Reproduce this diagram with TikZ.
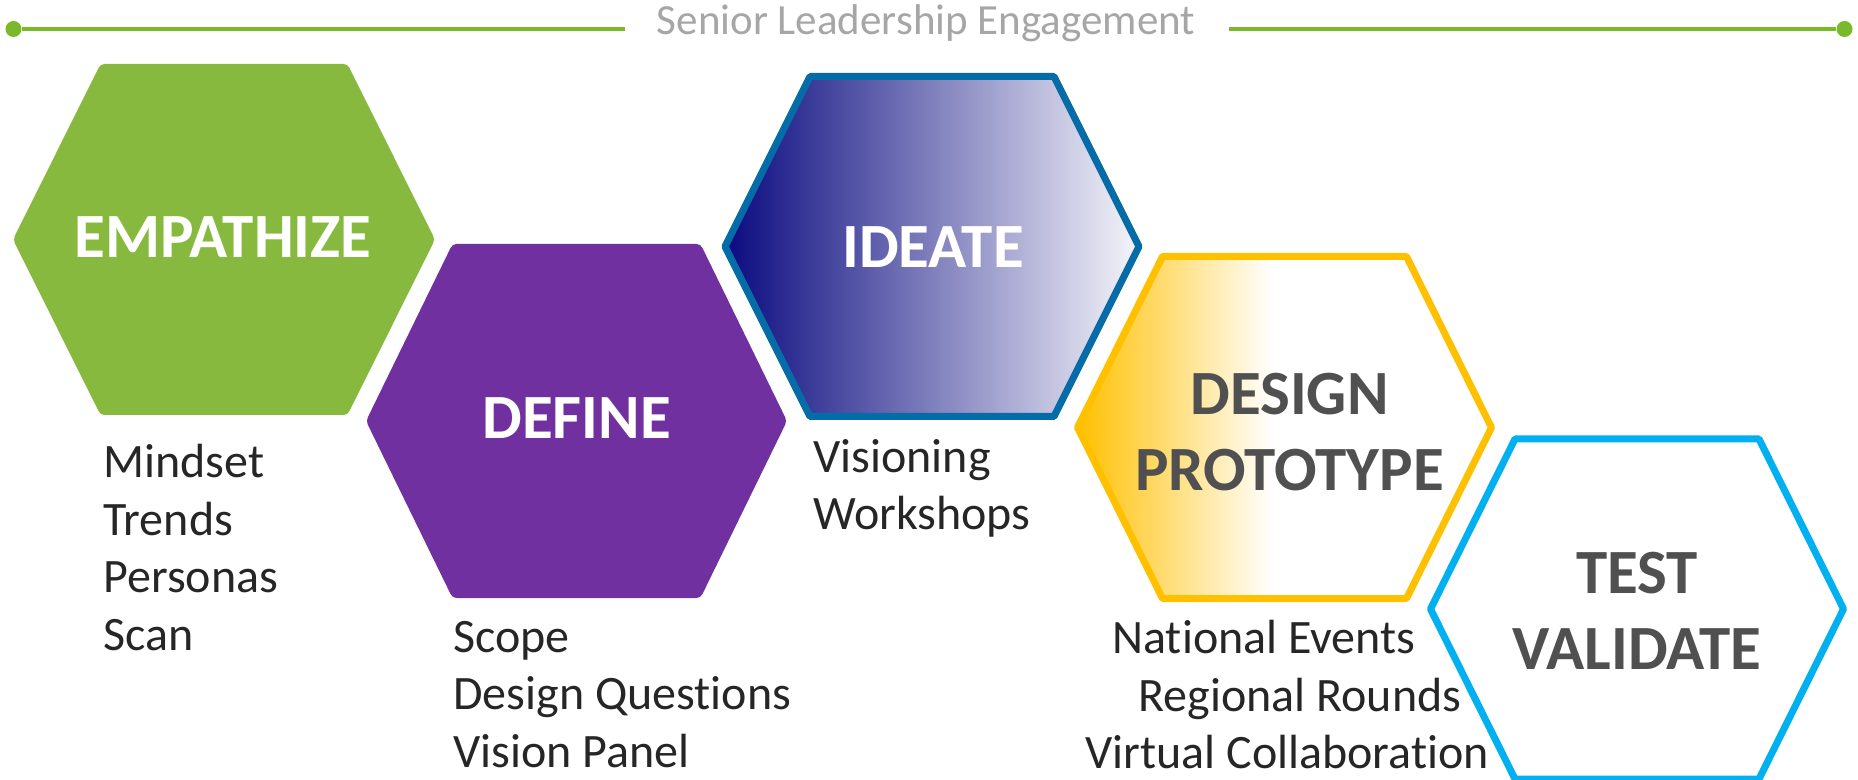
\documentclass[tikz,border=0pt]{standalone}
\usepackage{fontspec}
\setmainfont{Carlito}[Ligatures=NoCommon]

\definecolor{linegreen}{RGB}{122,185,41}
\definecolor{titlegray}{RGB}{166,166,166}
\definecolor{empfill}{RGB}{134,185,62}
\definecolor{deffill}{RGB}{112,48,160}
\definecolor{ideaborder}{RGB}{5,108,168}
\definecolor{idealeft}{RGB}{10,10,128}
\definecolor{idearight}{RGB}{245,245,250}
\definecolor{gold}{RGB}{255,192,0}
\definecolor{testblue}{RGB}{0,176,240}
\definecolor{darktext}{RGB}{80,80,80}
\definecolor{listgray}{RGB}{38,38,38}

% gold on the left half, fading to white by the middle
\pgfdeclarehorizontalshading{goldfade}{100bp}{%
  color(0bp)=(gold); color(25bp)=(gold); color(48.5bp)=(white); color(100bp)=(white)}

\tikzset{
  hexline/.style={line width=3.5pt, line join=round},
  hexlabel/.style={font=\fontsize{31.5}{38}\selectfont\bfseries, align=center,
                   inner sep=0pt, anchor=base},
  listtext/.style={font=\fontsize{24}{28.7}\selectfont, text=listgray,
                   align=left, inner sep=0pt, anchor=base west},
  enddot/.style={circle, fill=linegreen, inner sep=0pt, minimum size=8pt},
  greenrule/.style={draw=linegreen, line width=1.6pt},
}

\begin{document}
\begin{tikzpicture}[x=0.5pt, y=-0.5pt]
\useasboundingbox (0,0) rectangle (1858,780);

% header rule with its caption
\node[font=\fontsize{21.5}{24}\selectfont, text=titlegray, inner sep=0pt, anchor=base]
  (title) at (926,35) {Senior Leadership Engagement};
\node[enddot] (ldot) at (13.5,29) {};
\node[enddot] (rdot) at (1844.5,29) {};
\draw[greenrule, shorten >=16pt] (ldot) -- (ldot -| title.west);
\draw[greenrule, shorten >=17pt] (rdot) -- (rdot -| title.east);

% EMPATHIZE
\path[shift={(224,239.5)}, fill=empfill, rounded corners=2pt]
  (-211,0) -- (-123.5,-175.5) -- (123.5,-175.5) -- (211,0)
  -- (123.5,175.5) -- (-123.5,175.5) -- cycle;
\node[hexlabel, text=white] (empathize) at (223,258) {EMPATHIZE};

% DEFINE
\path[shift={(576.5,421)}, fill=deffill, rounded corners=2pt]
  (-210.5,0) -- (-124,-177) -- (124,-177) -- (210.5,0)
  -- (124,177) -- (-124,177) -- cycle;
\node[hexlabel, text=white] (define) at (576.5,439) {DEFINE};

% IDEATE
\path[shift={(932,246.5)}, left color=idealeft, right color=idearight,
      draw=ideaborder, hexline]
  (-207,0) -- (-122,-170) -- (122,-170) -- (207,0)
  -- (122,170) -- (-122,170) -- cycle;
\node[hexlabel, text=white] (ideate) at (933,268) {IDEATE};

% DESIGN PROTOTYPE
\path[shift={(1284.5,427.5)}, shade, shading=goldfade, draw=gold, hexline]
  (-207,0) -- (-122,-171) -- (122,-171) -- (207,0)
  -- (122,171) -- (-122,171) -- cycle;
\node[hexlabel, text=darktext] (design) at (1289.5,490) {DESIGN\\PROTOTYPE};

% TEST VALIDATE
\path[shift={(1637,609)}, fill=white, draw=testblue, hexline]
  (-206.5,0) -- (-122,-170) -- (122,-170) -- (206.5,0)
  -- (122,170) -- (-122,170) -- cycle;
\node[hexlabel, text=darktext] (test) at (1637,669) {TEST\\VALIDATE};

% activity lists (anchored at the baseline of their last line)
\node[listtext] (emplist) at (103,650) {Mindset\\Trends\\Personas\\Scan};
\node[listtext] (deflist) at (453,767) {Scope\\Design Questions\\Vision Panel};
\node[listtext] (idealist) at (813,530) {Visioning\\Workshops};
\node[listtext] (des1) at (1112,653) {National Events};
\node[listtext] (des2) at (1138,711) {Regional Rounds};
\node[listtext] (des3) at (1085,768) {Virtual Collaboration};
\end{tikzpicture}
\end{document}
